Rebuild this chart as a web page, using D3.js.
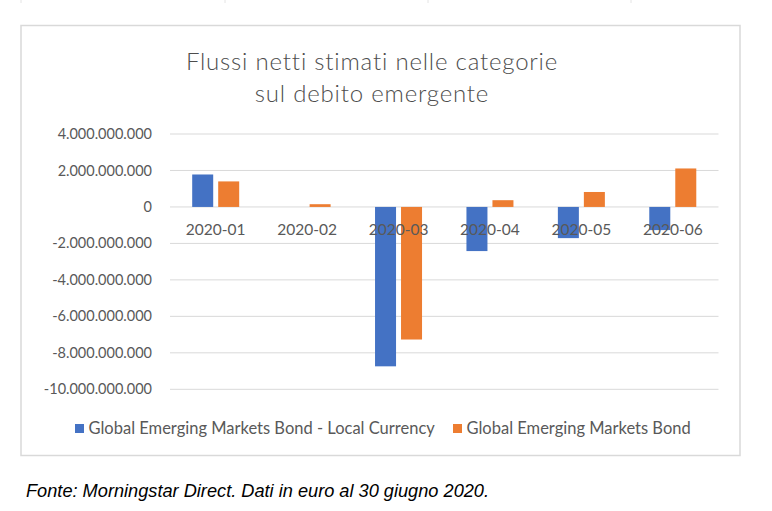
<!DOCTYPE html>
<html>
<head>
<meta charset="utf-8">
<script src="https://cdn.jsdelivr.net/npm/d3@7"></script>
<style>
  body { margin: 0; background: #fff; }
  svg { display: block; }
</style>
</head>
<body>
<div id="chart"></div>
<script>
// Dati
const mesi = ["2020-01", "2020-02", "2020-03", "2020-04", "2020-05", "2020-06"];
const serie = ["Global Emerging Markets Bond - Local Currency", "Global Emerging Markets Bond"];
const localCurrency = [1.78e9, 0, -8.74e9, -2.42e9, -1.71e9, -1.27e9];
const emergingBond = [1.40e9, 0.15e9, -7.27e9, 0.37e9, 0.82e9, 2.11e9];
const yTicks = [4e9, 2e9, 0, -2e9, -4e9, -6e9, -8e9, -10e9];
const titolo = ["Flussi netti stimati nelle categorie", "sul debito emergente"];
const fonte = "Fonte: Morningstar Direct. Dati in euro al 30 giugno 2020.";

const colori = ["#4472C4", "#ED7D31"];
const W = 772, H = 511;
const grigio = "#595959";
const font = "Lato, 'Open Sans', sans-serif";

const svg = d3.select("#chart").append("svg")
    .attr("width", W)
    .attr("height", H);

// piccoli bordi di una tabella tagliata in alto
svg.selectAll("line.top")
    .data([21, 225, 428, 631])
    .join("line")
    .attr("x1", d => d).attr("x2", d => d)
    .attr("y1", 0).attr("y2", 3)
    .attr("stroke", "#e4e4e4");

// riquadro del grafico
svg.append("rect")
    .attr("x", 21).attr("y", 25.5)
    .attr("width", 719).attr("height", 430)
    .attr("fill", "#fff")
    .attr("stroke", "#d9d9d9")
    .attr("stroke-width", 1.5);

// titolo
svg.append("text")
    .attr("x", 372).attr("y", 70)
    .attr("text-anchor", "middle")
    .attr("fill", "#4d4d4d")
    .style("font-family", font)
    .style("font-weight", 300)
    .style("font-size", "24px")
    .style("letter-spacing", "0.8px")
    .selectAll("tspan")
    .data(titolo)
    .join("tspan")
    .attr("x", 372)
    .attr("dy", (d, i) => i === 0 ? 0 : 32)
    .text(d => d);

// scale
const x0 = d3.scaleBand()
    .domain(mesi)
    .range([170, 718.5]);

const x1 = d3.scaleBand()
    .domain(serie)
    .range([22.2, 69.2])
    .paddingInner(0.192);

const y = d3.scaleLinear()
    .domain([-10e9, 4e9])
    .range([389.3, 134]);

const fmt = v => v === 0 ? "0" : d3.format(",")(v).replace(/,/g, ".").replace("−", "-");

// griglia
svg.append("g")
    .selectAll("line")
    .data(yTicks)
    .join("line")
    .attr("x1", 170).attr("x2", 718.5)
    .attr("y1", d => y(d)).attr("y2", d => y(d))
    .attr("stroke", "#d9d9d9")
    .attr("stroke-width", 1);

// etichette asse y
svg.append("g")
    .selectAll("text")
    .data(yTicks)
    .join("text")
    .attr("x", 152)
    .attr("y", d => y(d))
    .attr("dy", "0.35em")
    .attr("text-anchor", "end")
    .attr("fill", grigio)
    .style("font-family", font)
    .style("font-size", "14.5px")
    .text(d => fmt(d));

// barre
const righe = mesi.map((m, i) => ({mese: m, valori: [localCurrency[i], emergingBond[i]]}));

svg.append("g")
    .selectAll("g")
    .data(righe)
    .join("g")
    .attr("transform", d => `translate(${x0(d.mese)},0)`)
    .selectAll("rect")
    .data(d => d.valori.map((v, j) => ({serie: serie[j], v: v, j: j})))
    .join("rect")
    .attr("x", d => x1(d.serie))
    .attr("width", x1.bandwidth())
    .attr("y", d => y(Math.max(0, d.v)))
    .attr("height", d => Math.abs(y(d.v) - y(0)))
    .attr("fill", d => colori[d.j]);

// etichette categorie
svg.append("g")
    .selectAll("text")
    .data(mesi)
    .join("text")
    .attr("x", d => x0(d) + x0.bandwidth() / 2)
    .attr("y", 235)
    .attr("text-anchor", "middle")
    .attr("fill", grigio)
    .style("font-family", font)
    .style("font-size", "15.5px")
    .text(d => d);

// legenda
const legX = [75, 453];
const leg = svg.append("g")
    .selectAll("g")
    .data(serie)
    .join("g")
    .attr("transform", (d, i) => `translate(${legX[i]},424)`);

leg.append("rect")
    .attr("width", 9).attr("height", 9)
    .attr("fill", (d, i) => colori[i]);

leg.append("text")
    .attr("x", 13.5)
    .attr("y", 4.5)
    .attr("dy", "0.35em")
    .attr("fill", grigio)
    .style("font-family", font)
    .style("font-size", "16.5px")
    .text(d => d);

// fonte
svg.append("text")
    .attr("x", 26)
    .attr("y", 497)
    .attr("fill", "#000")
    .style("font-family", "'Liberation Sans', Arial, sans-serif")
    .style("font-style", "italic")
    .style("font-size", "18.2px")
    .text(fonte);
</script>
</body>
</html>
